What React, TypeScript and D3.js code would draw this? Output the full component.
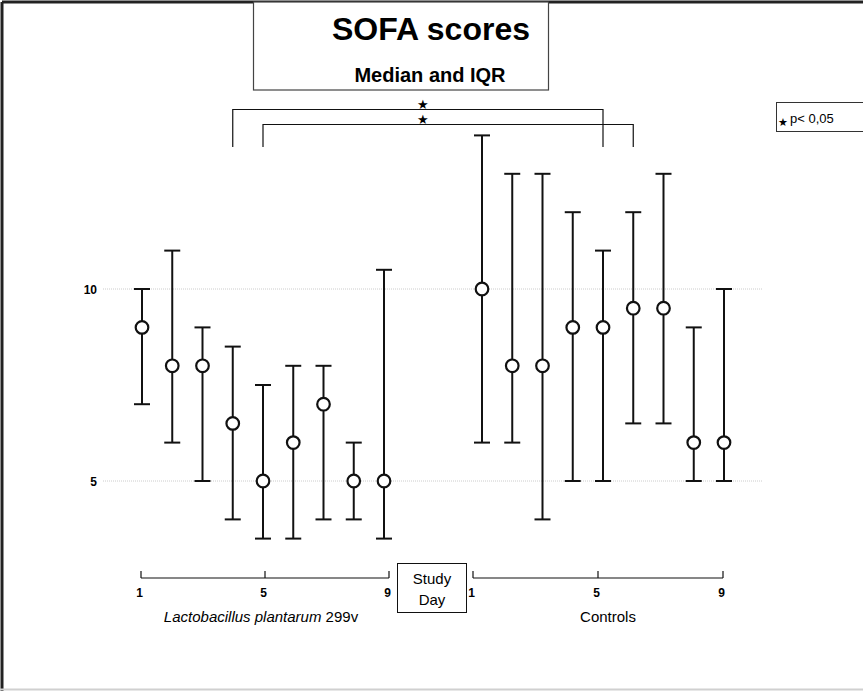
import * as d3 from 'd3';

const days = [1, 2, 3, 4, 5, 6, 7, 8, 9];
const axisTicks = [1, 5, 9];
const yTicks = [5, 10];

// median, lower quartile, upper quartile per study day
const lpMedian = [9, 8, 8, 6.5, 5, 6, 7, 5, 5];
const lpLow = [7, 6, 5, 4, 3.5, 3.5, 4, 4, 3.5];
const lpHigh = [10, 11, 9, 8.5, 7.5, 8, 8, 6, 10.5];

const ctrlMedian = [10, 8, 8, 9, 9, 9.5, 9.5, 6, 6];
const ctrlLow = [6, 6, 4, 5, 5, 6.5, 6.5, 5, 5];
const ctrlHigh = [14, 13, 13, 12, 11, 12, 13, 9, 10];

// significant comparisons: [lp day, control day]
const sigPairs: [number, number][] = [[4, 5], [5, 6]];

const W = 863;
const H = 691;
const FONT = 'Liberation Sans, Arial, Helvetica, sans-serif';

const App = () => {
  const y = d3.scaleLinear().domain([5, 10]).range([481, 289]);
  const xLp = d3.scaleLinear().domain([1, 9]).range([142, 384]);
  const xCtrl = d3.scaleLinear().domain([1, 9]).range([482, 724]);
  const axLp = d3.scaleLinear().domain([1, 9]).range([141, 389]);
  const axCtrl = d3.scaleLinear().domain([1, 9]).range([473, 723]);
  const axisY = 578;

  const groups = [
    { x: xLp, med: lpMedian, lo: lpLow, hi: lpHigh },
    { x: xCtrl, med: ctrlMedian, lo: ctrlLow, hi: ctrlHigh },
  ];

  const bracketTop = [109, 124];
  const bracketBottom = 147;

  return (
    <svg width={W} height={H} style={{ position: 'absolute', left: 0, top: 0 }} fontFamily={FONT}>
      <rect x={0} y={0} width={W} height={H} fill="#fff" />
      {/* frame */}
      <line x1={2} y1={2} x2={W} y2={2} stroke="#222" strokeWidth={3} />
      <line x1={2} y1={2} x2={2} y2={H} stroke="#222" strokeWidth={3} />
      <line x1={0} y1={689.5} x2={W} y2={689.5} stroke="#d0d0d0" strokeWidth={2} />

      {/* title box */}
      <rect x={253.5} y={2} width={295} height={88} fill="#fff" stroke="#444" strokeWidth={1.2} />
      <text x={431} y={40} textAnchor="middle" fontSize={32} fontWeight="bold">SOFA scores</text>
      <text x={430} y={82} textAnchor="middle" fontSize={20} fontWeight="bold">Median and IQR</text>

      {/* legend */}
      <rect x={776.5} y={102.5} width={100} height={29} fill="#fff" stroke="#333" strokeWidth={1} />
      <text x={783} y={126} textAnchor="middle" fontSize={11}>★</text>
      <text x={790} y={123} fontSize={13}>p&lt; 0,05</text>

      {/* gridlines */}
      {yTicks.map(t => (
        <g key={t}>
          <line x1={103} x2={763} y1={y(t)} y2={y(t)} stroke="#ccc" strokeWidth={1} strokeDasharray="1,1" />
          <text x={97} y={y(t) + 4.5} textAnchor="end" fontSize={12} fontWeight="bold">{t}</text>
        </g>
      ))}

      {/* significance brackets */}
      {sigPairs.map(([a, b], i) => {
        const x1 = xLp(a);
        const x2 = xCtrl(b);
        const yy = bracketTop[i];
        return (
          <g key={i}>
            <path d={`M${x1},${bracketBottom}V${yy + 0.5}H${x2}V${bracketBottom}`} fill="none" stroke="#111" strokeWidth={1.2} />
            <text x={423} y={yy - 0.5} textAnchor="middle" fontSize={13}>★</text>
          </g>
        );
      })}

      {/* error bars */}
      {groups.map((g, gi) => (
        <g key={gi}>
          {days.map((d, i) => {
            const cx = g.x(d);
            return (
              <g key={d} stroke="#111" strokeWidth={2}>
                <line x1={cx} x2={cx} y1={y(g.hi[i])} y2={y(g.lo[i])} />
                <line x1={cx - 8} x2={cx + 8} y1={y(g.hi[i])} y2={y(g.hi[i])} />
                <line x1={cx - 8} x2={cx + 8} y1={y(g.lo[i])} y2={y(g.lo[i])} />
                <circle cx={cx} cy={y(g.med[i])} r={6.3} fill="#fff" strokeWidth={2.2} />
              </g>
            );
          })}
        </g>
      ))}

      {/* x axes */}
      {[axLp, axCtrl].map((ax, ai) => (
        <g key={ai}>
          <line x1={ax(1)} x2={ax(9)} y1={axisY} y2={axisY} stroke="#111" strokeWidth={1.2} />
          {axisTicks.map(t => (
            <g key={t}>
              <line x1={ax(t)} x2={ax(t)} y1={axisY} y2={axisY - 7} stroke="#111" strokeWidth={1.2} />
              <text x={ax(t) - 1.5} y={597} textAnchor="middle" fontSize={12} fontWeight="bold">{t}</text>
            </g>
          ))}
        </g>
      ))}

      <rect x={397.5} y={563.5} width={69} height={49} fill="#fff" stroke="#111" strokeWidth={1} />
      <text x={432} y={584} textAnchor="middle" fontSize={15}>Study</text>
      <text x={432} y={605} textAnchor="middle" fontSize={15}>Day</text>

      <text x={261} y={622} textAnchor="middle" fontSize={15}>
        <tspan fontStyle="italic">Lactobacillus plantarum</tspan> 299v
      </text>
      <text x={608} y={622} textAnchor="middle" fontSize={15}>Controls</text>
    </svg>
  );
};

export default App;
